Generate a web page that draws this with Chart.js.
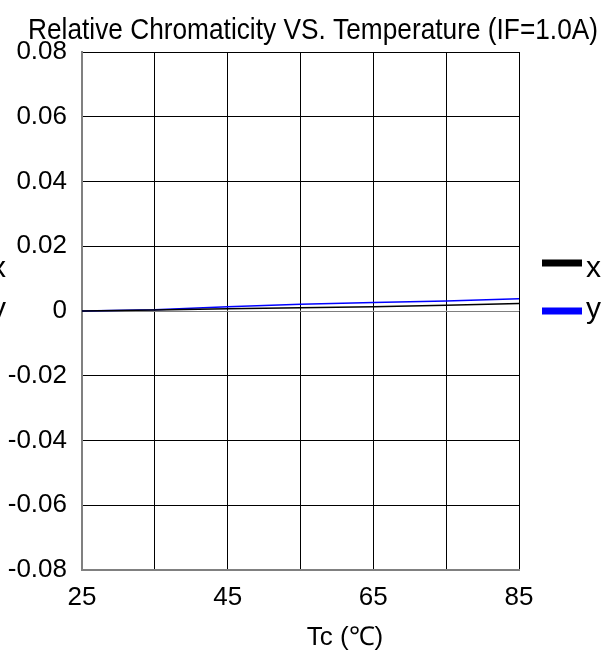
<!DOCTYPE html>
<html>
<head>
<meta charset="utf-8">
<script src="https://cdn.jsdelivr.net/npm/chart.js@4/dist/chart.umd.min.js"></script>
<style>
html,body{margin:0;padding:0;background:#fff;}
#wrap{position:relative;width:611px;height:662px;}
</style>
</head>
<body>
<div id="wrap"><canvas id="c" width="611" height="662"></canvas></div>
<script>
const temperatures = [25, 35, 45, 55, 65, 75, 85];
const seriesX = [0, 0.0003, 0.0007, 0.0010, 0.0013, 0.0018, 0.0023];
const seriesY = [0, 0.0004, 0.0013, 0.0021, 0.0026, 0.0031, 0.0038];
const xTickLabels = [25, 45, 65, 85];
const titleText = 'Relative Chromaticity VS. Temperature (IF=1.0A)';
const xAxisTitle = 'Tc (℃)';
const FONT = '"Liberation Sans", Arial, sans-serif';

const toPts = (xs, ys) => xs.map((t, i) => ({x: t, y: ys[i]}));

const extras = {
  id: 'extras',
  afterDraw(chart) {
    const ctx = chart.ctx;
    ctx.save();
    ctx.fillStyle = '#000';
    // chart title, slightly condensed like the reference
    ctx.font = '29px ' + FONT;
    ctx.textAlign = 'center';
    ctx.textBaseline = 'alphabetic';
    const w = ctx.measureText(titleText).width;
    const f = Math.min(1, 570 / w);
    ctx.save();
    ctx.translate(313, 39);
    ctx.scale(f, 1);
    ctx.fillText(titleText, 0, 0);
    ctx.restore();
    // x-axis title (offset to the right as in the reference)
    ctx.font = '26px ' + FONT;
    ctx.textBaseline = 'middle';
    ctx.fillText(xAxisTitle, 345, 638);
    // cut-off y-axis titles at the left edge
    ctx.font = '30px ' + FONT;
    ctx.textAlign = 'right';
    ctx.textBaseline = 'alphabetic';
    ctx.fillText('x', 6, 277);
    ctx.fillText('y', 6, 318);
    // legend
    const baselines = [277, 318];
    const bars = [263, 311];
    chart.data.datasets.forEach((ds, i) => {
      ctx.fillStyle = ds.borderColor;
      ctx.fillRect(542, bars[i] - 3.5, 40, 7);
      ctx.fillStyle = '#000';
      ctx.textAlign = 'left';
      ctx.font = '30px ' + FONT;
      ctx.fillText(ds.label, 586, baselines[i]);
    });
    ctx.restore();
  }
};

new Chart(document.getElementById('c'), {
  type: 'line',
  data: {
    datasets: [
      {label: 'x', data: toPts(temperatures, seriesX), borderColor: '#000000', backgroundColor: '#000000', borderWidth: 1.5, pointRadius: 0, tension: 0},
      {label: 'y', data: toPts(temperatures, seriesY), borderColor: '#0000ff', backgroundColor: '#0000ff', borderWidth: 1.5, pointRadius: 0, tension: 0}
    ]
  },
  options: {
    responsive: false,
    animation: false,
    devicePixelRatio: 1,
    layout: {padding: {left: 0, right: 92, top: 52, bottom: 0}},
    plugins: {
      legend: {display: false},
      tooltip: {enabled: false},
      title: {display: false}
    },
    scales: {
      x: {
        type: 'linear',
        min: 25, max: 85,
        afterFit(s) { s.height = 92; },
        grid: {color: '#000', lineWidth: 1, drawTicks: false},
        border: {color: '#808080', width: 2},
        ticks: {
          stepSize: 10,
          padding: 12,
          color: '#000',
          maxRotation: 0,
          autoSkip: false,
          font: {family: FONT, size: 26},
          callback: v => xTickLabels.includes(v) ? String(v) : ''
        }
      },
      y: {
        min: -0.08, max: 0.08,
        afterFit(s) { s.width = 82; },
        grid: {color: ctx => ctx.tick && ctx.tick.value === 0 ? '#808080' : '#000', lineWidth: 1, drawTicks: false},
        border: {color: '#808080', width: 2},
        ticks: {
          stepSize: 0.02,
          padding: 15,
          color: '#000',
          font: {family: FONT, size: 26},
          callback: v => {
            const r = Math.round(v * 100) / 100;
            return r === 0 ? '0' : r.toFixed(2);
          }
        }
      }
    }
  },
  plugins: [extras]
});
</script>
</body>
</html>
